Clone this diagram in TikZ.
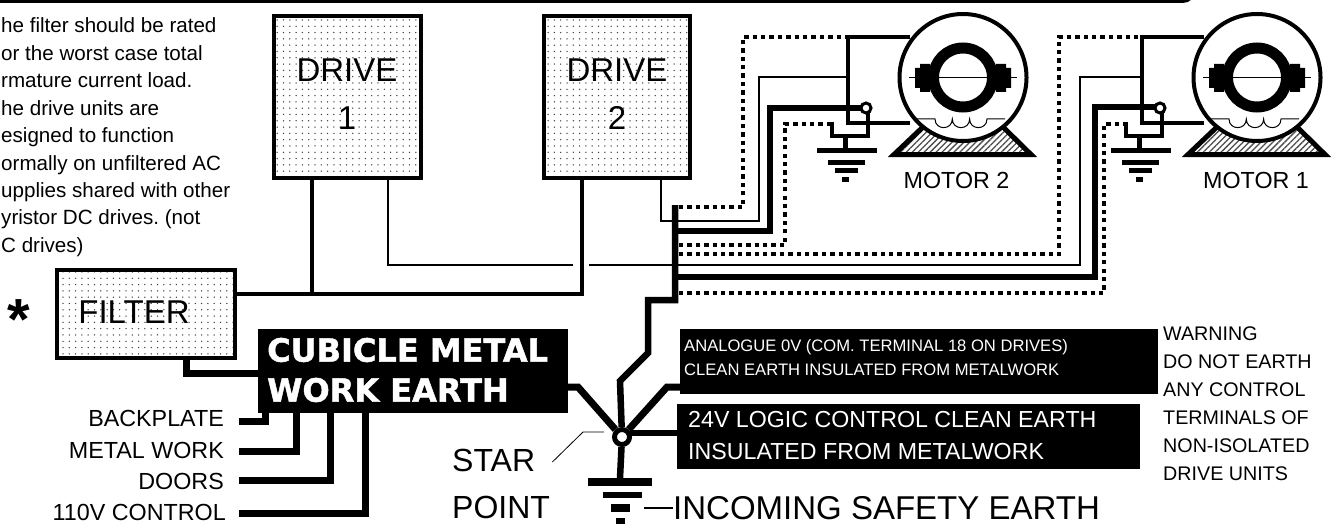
\documentclass[tikz,border=0pt]{standalone}
\usepackage{fontspec}
\setmainfont{Liberation Sans}
\newfontfamily\heavyfont{DejaVu Sans Bold}[FakeBold=1.4]
\usetikzlibrary{patterns.meta}
\frenchspacing
\newcommand\drawmotor[3]{%
\begin{scope}[xshift=#1pt]
  \draw[line width=4pt] (910,37) -- (848,37) -- (848,123) -- (910,123);
  \fill[pattern={Lines[angle=45,distance=4.2pt,line width=1.3pt]}, pattern color=black!70]
     (924,126) -- (894,154.5) -- (1031,154.5) -- (1002,126) -- cycle;
  \draw[line width=5pt, line join=miter] (924,126) -- (894,154.5) -- (1031,154.5) -- (1002,126);
  \draw[line width=4pt, fill=white] (963,77.5) circle[radius=63.5pt];
  \draw[line width=1pt] (909,78) -- (1017,78);
  \fill (920,64) -- (930,64) -- (930,92) -- (920,92) -- (920,88) -- (915,88) -- (915,68) -- (920,68) -- cycle;
  \fill (1006,64) -- (996,64) -- (996,92) -- (1006,92) -- (1006,88) -- (1011,88) -- (1011,68) -- (1006,68) -- cycle;
  \draw[line width=11pt] (963,77.5) circle[radius=29.5pt];
  \draw[line width=1pt] (917,119) -- (935,119)
     .. controls (935,130.5) and (952.3,130.5) .. (952.3,119)
     .. controls (952.3,130.5) and (969.6,130.5) .. (969.6,119)
     .. controls (969.6,130.5) and (987,130.5) .. (987,119) -- (1005,119);
  \draw[line width=4.5pt, line join=miter] (832,122) -- (832,136) -- (868,136) -- (868,113);
  \draw[line width=3pt, fill=white] (866,108) circle[radius=5pt];
  \draw[line width=5pt] (845,136) -- (845,149);
  \fill (817,148) rectangle (877,153);
  \fill (828,160) rectangle (865,165);
  \fill (835,168) rectangle (858,173);
  \fill (842,177) rectangle (849,182);
\end{scope}
\node[lbl] (#3) at (#2,180) {#3};}
\begin{document}
\begin{tikzpicture}[x=1pt,y=-1pt,
  thinw/.style={line width=1.1pt},
  wire/.style={line width=4.5pt},
  heavyw/.style={line width=6.5pt, line join=miter},
  earthw/.style={line width=7pt, line join=miter},
  scr/.style={line width=4.3pt, dash pattern=on 4.3pt off 4.1pt},
  dotbox/.style={draw, line width=4.5pt, inner sep=0pt, pattern={Dots[distance=6.3pt,radius=0.75pt]}, pattern color=black!75},
  blackbox/.style={fill=black, draw=none, inner sep=0pt},
  note/.style={font=\fontsize{20.6}{24}\selectfont, inner sep=0pt, anchor=base west},
  lbl/.style={font=\fontsize{23.3}{28}\selectfont, inner sep=0pt},
  big/.style={font=\fontsize{33}{40}\selectfont, inner sep=0pt},
  inv/.style={text=white, inner sep=0pt, anchor=west},
  warn/.style={font=\fontsize{19.7}{24}\selectfont, inner sep=0pt, anchor=base west},
]
\useasboundingbox (0,0) rectangle (1335,524);
\clip (0,0) rectangle (1335,524);

% top bar
\fill[rounded corners=12pt] (-20,-40) -- (1195,-40) -- (1195,3) -- (-20,3) -- cycle;

% note text
\foreach \t [count=\i] in {{he filter should be rated},{or the worst case total},{rmature current load.},{he drive units are},{esigned to function},{ormally on unfiltered AC},{upplies shared with other},{yristor DC drives. (not},{C drives)}}
  \node[note] (note\i) at (1,{33+27.4*(\i-1)}) {\t};

% drives and filter
\node[dotbox, minimum width=147pt, minimum height=162pt] (drive1) at (347.5,97) {};
\node[big] (drive1a) at (347,70) {DRIVE};
\node[big] (drive1b) at (347,118) {1};
\node[dotbox, minimum width=146pt, minimum height=162pt] (drive2) at (617,97) {};
\node[big] (drive2a) at (617,70) {DRIVE};
\node[big] (drive2b) at (617,118) {2};
\node[dotbox, line width=3.8pt, minimum width=178pt, minimum height=88pt] (filter) at (146,314) {};
\node[big] (filtert) at (134,312) {FILTER};
\node[font=\bfseries\fontsize{58}{60}\selectfont, inner sep=0pt, anchor=north] (ast) at (19,299) {*};

% signal (thin) wires
\draw[thinw] (388,178) -- (388,265) -- (1080,265) -- (1080,77) -- (1142,77);
\draw[thinw] (661,178) -- (661,221) -- (759,221) -- (759,77) -- (848,77);
\draw[white, line width=2pt] (573,265) -- (589,265);

% power wires
\draw[wire] (filter.east |- 0,294) -- (582,294) -- (582,178);
\draw[wire] (312,178) -- (312,294);

% motor wires and screens
\draw[heavyw] (675,231) -- (770,231) -- (770,108) -- (861,108);
\draw[heavyw] (675,277) -- (1095,277) -- (1095,107) -- (1155,107);
\draw[scr] (679,207) -- (743,207) -- (743,37) -- (848,37);
\draw[scr] (679,245) -- (785,245) -- (785,124) -- (832,124);
\draw[scr] (679,254) -- (1059,254) -- (1059,37) -- (1142,37);
\draw[scr] (679,293) -- (1104,293) -- (1104,124) -- (1126,124);

% motors
\drawmotor{0}{956.5}{MOTOR 2}
\drawmotor{294}{1256}{MOTOR 1}

% black label boxes
\node[blackbox, minimum width=310pt, minimum height=84pt] (cub) at (413,371) {};
\node[inv, font=\heavyfont\fontsize{32}{38}\selectfont] (cub1) at (267,350) {CUBICLE METAL};
\node[inv, font=\heavyfont\fontsize{32}{38}\selectfont] (cub2) at (267,390) {WORK EARTH};
\node[blackbox, minimum width=478pt, minimum height=65pt] (ana) at (919,361.5) {};
\node[inv, font=\fontsize{16.6}{20}\selectfont] (ana1) at (684,347) {ANALOGUE 0V (COM. TERMINAL 18 ON DRIVES)};
\node[inv, font=\fontsize{16.6}{20}\selectfont] (ana2) at (684,370) {CLEAN EARTH INSULATED FROM METALWORK};
\node[blackbox, minimum width=463pt, minimum height=65pt] (log) at (908.5,436.5) {};
\node[inv, font=\fontsize{23.2}{28}\selectfont] (log1) at (688,420) {24V LOGIC CONTROL CLEAN EARTH};
\node[inv, font=\fontsize{23.2}{28}\selectfont] (log2) at (688,452) {INSULATED FROM METALWORK};

% star point
\node[circle, draw, line width=5pt, fill=white, minimum size=15pt, inner sep=0pt] (star) at (622,437) {};
\draw[heavyw] (675,205) -- (675,300) -- (648,300) -- (648,353) -- (620,381) -- (star);
\draw[earthw] (cub.east |- 0,387) -- (578,387) -- (star);
\draw[earthw] (ana.west |- 0,387) -- (667,387) -- (star);
\draw[heavyw] (630,433) -- (log.west |- 0,433);
\draw[heavyw] (star) -- (620,478);
\fill (588,478) rectangle (652,486);
\fill (603,492) rectangle (642,498);
\fill (611,504) rectangle (630,512);
\fill (616,518) rectangle (625,526);
\node[big, anchor=west] (inc) at (673,508) {INCOMING SAFETY EARTH};
\draw[thinw] (644,508) -- (inc.west);
\node[font=\fontsize{32}{38}\selectfont, inner sep=0pt, anchor=west] (st) at (452,460) {STAR};
\node[font=\fontsize{32}{38}\selectfont, inner sep=0pt, anchor=west] (pt) at (452,507) {POINT};
\coordinate (lead) at ([xshift=17pt,yshift=-2pt]st.east);
\draw[line width=0.8pt] (lead) -- (583,432) -- (604,432);

% cubicle earth feeders
\draw[earthw] (filter.south -| 186.5,0) -- (186.5,373.5) -- (cub.west |- 0,373.5);
\node[lbl, anchor=east] (bp) at (224,418) {BACKPLATE};
\node[lbl, anchor=east] (mw) at (224,450) {METAL WORK};
\node[lbl, anchor=east] (dr) at (224,481) {DOORS};
\node[lbl, anchor=east] (ct) at (226,512) {110V CONTROL};
\draw[earthw] (239,421.5) -- (265,421.5) -- (265,412);
\draw[earthw] (239,451.5) -- (296,451.5) -- (296,412);
\draw[earthw] (239,480) -- (330,480) -- (330,412);
\draw[earthw] (239,513) -- (365.5,513) -- (365.5,412);

% warning
\foreach \t [count=\i] in {WARNING,DO NOT EARTH,ANY CONTROL,TERMINALS OF,NON-ISOLATED,DRIVE UNITS}
  \node[warn] (warn\i) at (1163,{340+28*(\i-1)}) {\t};
\end{tikzpicture}
\end{document}
